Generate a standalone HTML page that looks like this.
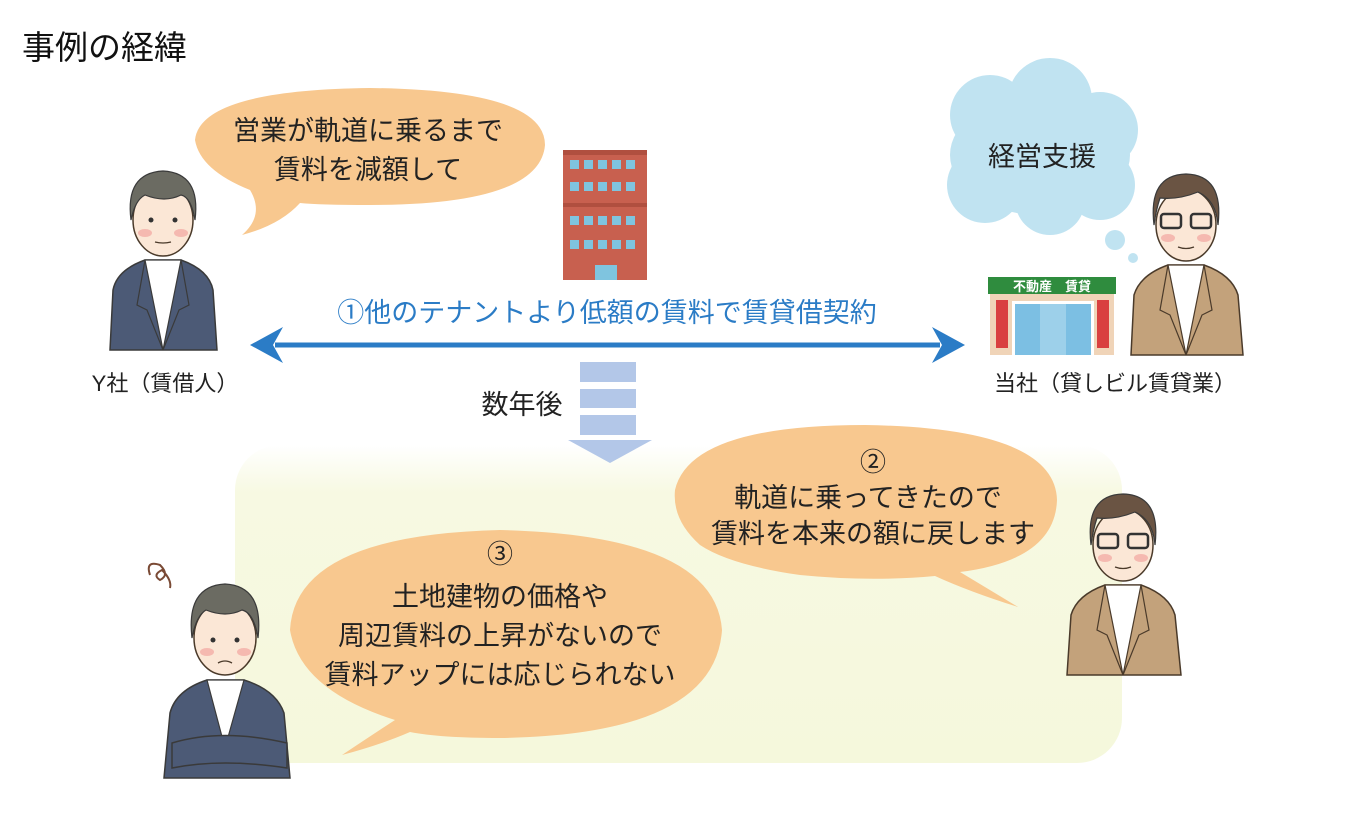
<!DOCTYPE html>
<html><head><meta charset="utf-8"><style>
html,body{margin:0;padding:0;background:#fff;}
svg{display:block;font-family:"Liberation Sans","Noto Sans CJK JP",sans-serif;}
</style></head><body>
<svg width="1345" height="823" viewBox="0 0 1345 823" xmlns="http://www.w3.org/2000/svg">
<defs>
<linearGradient id="yg" x1="0" y1="0" x2="0" y2="1">
<stop offset="0" stop-color="#fff"/><stop offset="0.15" stop-color="#f7f9e2"/><stop offset="1" stop-color="#f5f8dc"/>
</linearGradient>
</defs>

<text x="22" y="59" font-size="33" fill="#111">事例の経緯</text>

<!-- pale region -->
<rect x="235" y="445" width="887" height="318" rx="45" fill="url(#yg)"/>

<!-- bubble 1 -->
<path d="M250,190 Q200,170 195,140 Q200,90 370,88 Q545,90 545,145 Q540,205 370,205 Q320,205 300,203 Q280,225 242,235 Q265,215 250,190 Z" fill="#f8c88f"/>
<text x="368" y="140" font-size="27" text-anchor="middle" fill="#222">営業が軌道に乗るまで</text>
<text x="368" y="179" font-size="27" text-anchor="middle" fill="#222">賃料を減額して</text>

<!-- building -->
<rect x="563" y="150" width="84" height="130" fill="#c8604f"/>
<rect x="563" y="150" width="84" height="5" fill="#b04f3f"/>
<rect x="563" y="203" width="84" height="4" fill="#b04f3f"/>
<g fill="#7fc4df">
<rect x="570" y="160" width="9" height="9"/><rect x="584" y="160" width="9" height="9"/><rect x="598" y="160" width="9" height="9"/><rect x="612" y="160" width="9" height="9"/><rect x="626" y="160" width="9" height="9"/>
<rect x="570" y="182" width="9" height="9"/><rect x="584" y="182" width="9" height="9"/><rect x="598" y="182" width="9" height="9"/><rect x="612" y="182" width="9" height="9"/><rect x="626" y="182" width="9" height="9"/>
<rect x="570" y="216" width="9" height="9"/><rect x="584" y="216" width="9" height="9"/><rect x="598" y="216" width="9" height="9"/><rect x="612" y="216" width="9" height="9"/><rect x="626" y="216" width="9" height="9"/>
<rect x="570" y="240" width="9" height="9"/><rect x="584" y="240" width="9" height="9"/><rect x="598" y="240" width="9" height="9"/><rect x="612" y="240" width="9" height="9"/><rect x="626" y="240" width="9" height="9"/>
<rect x="595" y="265" width="22" height="15"/>
</g>

<!-- cloud -->
<g fill="#c0e3f1">
<ellipse cx="1040" cy="155" rx="90" ry="60"/>
<circle cx="990" cy="115" r="40"/><circle cx="1050" cy="100" r="42"/><circle cx="1100" cy="130" r="38"/>
<circle cx="985" cy="185" r="38"/><circle cx="1050" cy="200" r="35"/><circle cx="1100" cy="185" r="35"/>
<circle cx="1115" cy="240" r="10"/><circle cx="1133" cy="258" r="5"/>
</g>
<text x="1042" y="166" font-size="27" text-anchor="middle" fill="#222">経営支援</text>

<!-- person Y -->
<g transform="translate(105,165)">
<path d="M5,185 L8,125 Q12,105 40,95 L76,95 Q104,105 108,125 L112,185 Z" fill="#4c5a76" stroke="#3a3a3a" stroke-width="1.5"/>
<path d="M40,95 L58,185 L76,95 Z" fill="#fff" stroke="#3a3a3a" stroke-width="1.2"/>
<path d="M40,95 L32,140 L42,145 L58,185 M76,95 L84,140 L74,145 L58,185" fill="none" stroke="#3a3a3a" stroke-width="1.2"/>
<ellipse cx="58" cy="55" rx="30" ry="36" fill="#fbe7d6" stroke="#4a3a2a" stroke-width="1.5"/>
<path d="M26,55 Q20,8 58,6 Q96,8 90,55 Q86,32 76,30 Q60,38 40,30 Q30,35 26,55 Z" fill="#6b6b62" stroke="#3a3a3a" stroke-width="1.2"/>
<ellipse cx="40" cy="68" rx="7" ry="4" fill="#f5b9b0"/><ellipse cx="76" cy="68" rx="7" ry="4" fill="#f5b9b0"/>
<circle cx="46" cy="55" r="2.5" fill="#333"/><circle cx="70" cy="55" r="2.5" fill="#333"/>
<path d="M50,77 Q58,79 66,77" stroke="#4a3a2a" fill="none" stroke-width="1.3"/>
</g>
<text x="165" y="391" font-size="22" text-anchor="middle" fill="#222">Y社（賃借人）</text>

<!-- store -->
<rect x="990" y="293" width="124" height="62" fill="#f0d4b8"/>
<rect x="988" y="277" width="128" height="17" fill="#2f8c3e"/>
<text x="1052" y="291" font-size="13" font-weight="bold" text-anchor="middle" fill="#fff">不動産　賃貸</text>
<rect x="996" y="300" width="12" height="48" fill="#d94040"/><rect x="1097" y="300" width="12" height="48" fill="#d94040"/>
<rect x="1012" y="301" width="82" height="54" fill="#fff"/>
<rect x="1015" y="304" width="76" height="51" fill="#7cbfe3"/>
<rect x="1040" y="304" width="26" height="51" fill="#9dd0ea"/>

<!-- person 2 -->
<g transform="translate(1128,170)">
<path d="M3,185 L6,125 Q12,105 40,95 L76,95 Q104,105 110,125 L115,185 Z" fill="#c3a27b" stroke="#4a3a2a" stroke-width="1.5"/>
<path d="M40,95 L58,185 L76,95 Z" fill="#fff" stroke="#4a3a2a" stroke-width="1.2"/>
<path d="M40,95 L32,140 L42,145 L58,185 M76,95 L84,140 L74,145 L58,185" fill="none" stroke="#4a3a2a" stroke-width="1.2"/>
<ellipse cx="58" cy="55" rx="30" ry="36" fill="#fbe7d6" stroke="#4a3a2a" stroke-width="1.5"/>
<path d="M26,55 Q20,5 58,4 Q96,5 90,55 Q88,30 70,22 Q50,30 32,28 Q28,40 26,55 Z" fill="#6a5443" stroke="#3a3a3a" stroke-width="1.2"/>
<rect x="33" y="44" width="20" height="14" rx="3" fill="none" stroke="#333" stroke-width="2.5"/>
<rect x="63" y="44" width="20" height="14" rx="3" fill="none" stroke="#333" stroke-width="2.5"/>
<ellipse cx="40" cy="68" rx="7" ry="4" fill="#f5b9b0"/><ellipse cx="76" cy="68" rx="7" ry="4" fill="#f5b9b0"/>
<path d="M50,77 Q58,80 66,77" stroke="#4a3a2a" fill="none" stroke-width="1.3"/>
</g>
<text x="1115" y="391" font-size="22" text-anchor="middle" fill="#222">当社（貸しビル賃貸業）</text>

<!-- arrow -->
<line x1="275" y1="345" x2="940" y2="345" stroke="#2b7cc6" stroke-width="5"/>
<path d="M250,345 L283,327 L273,345 L283,363 Z" fill="#2b7cc6"/>
<path d="M965,345 L932,327 L942,345 L932,363 Z" fill="#2b7cc6"/>
<text x="607" y="322" font-size="27" text-anchor="middle" fill="#2b7cc6">①他のテナントより低額の賃料で賃貸借契約</text>

<!-- 数年後 -->
<text x="522" y="414" font-size="27" text-anchor="middle" fill="#222">数年後</text>
<g fill="#b3c7e8">
<rect x="580" y="362" width="56" height="20"/><rect x="580" y="389" width="56" height="19"/><rect x="580" y="415" width="56" height="20"/>
<path d="M568,440 L652,440 L610,463 Z"/>
</g>

<!-- bubble 2 -->
<path d="M700,545 Q672,520 675,490 Q690,425 865,425 Q1055,428 1057,500 Q1055,560 960,572 Q990,590 1018,607 Q970,592 935,576 Q870,582 800,575 Q730,565 700,545 Z" fill="#f8c88f"/>
<text x="873" y="471" font-size="26" text-anchor="middle" fill="#222">②</text>
<text x="868" y="507" font-size="27" text-anchor="middle" fill="#222">軌道に乗ってきたので</text>
<text x="873" y="543" font-size="27" text-anchor="middle" fill="#222">賃料を本来の額に戻します</text>

<!-- bubble 3 -->
<path d="M395,720 Q300,690 290,630 Q295,535 500,530 Q715,535 722,630 Q715,735 500,738 Q440,738 410,732 Q380,745 342,755 Q372,735 395,720 Z" fill="#f8c88f"/>
<text x="500" y="563" font-size="26" text-anchor="middle" fill="#222">③</text>
<text x="500" y="606" font-size="27" text-anchor="middle" fill="#222">土地建物の価格や</text>
<text x="500" y="645" font-size="27" text-anchor="middle" fill="#222">周辺賃料の上昇がないので</text>
<text x="500" y="684" font-size="27" text-anchor="middle" fill="#222">賃料アップには応じられない</text>

<!-- person 3 arms crossed -->
<path d="M150,575 Q145,560 160,565 Q170,575 160,580 Q152,575 162,570 Q172,580 170,588" fill="none" stroke="#7a4a35" stroke-width="2"/>
<g transform="translate(162,578)">
<path d="M2,200 L8,135 Q14,112 45,102 L82,102 Q114,112 122,135 L128,200 Z" fill="#4c5a76" stroke="#3a3a3a" stroke-width="1.5"/>
<path d="M45,102 L63,170 L82,102 Z" fill="#fff" stroke="#3a3a3a" stroke-width="1.2"/>
<path d="M10,165 Q60,150 125,165 L125,190 Q60,180 10,190 Z" fill="#4c5a76" stroke="#3a3a3a" stroke-width="1.5"/>
<ellipse cx="63" cy="60" rx="31" ry="37" fill="#fbe7d6" stroke="#4a3a2a" stroke-width="1.5"/>
<path d="M30,60 Q24,8 63,6 Q102,8 96,60 Q92,35 80,32 Q64,40 44,32 Q34,38 30,60 Z" fill="#6b6b62" stroke="#3a3a3a" stroke-width="1.2"/>
<ellipse cx="45" cy="74" rx="7" ry="4" fill="#f5b9b0"/><ellipse cx="82" cy="74" rx="7" ry="4" fill="#f5b9b0"/>
<circle cx="51" cy="62" r="2.5" fill="#333"/><circle cx="75" cy="62" r="2.5" fill="#333"/>
<path d="M56,85 Q63,81 70,85" stroke="#4a3a2a" fill="none" stroke-width="1.3"/>
</g>

<!-- person 4 -->
<g transform="translate(1065,490)">
<path d="M2,185 L6,125 Q12,105 40,95 L76,95 Q104,105 110,125 L116,185 Z" fill="#c3a27b" stroke="#4a3a2a" stroke-width="1.5"/>
<path d="M40,95 L58,185 L76,95 Z" fill="#fff" stroke="#4a3a2a" stroke-width="1.2"/>
<path d="M40,95 L32,140 L42,145 L58,185 M76,95 L84,140 L74,145 L58,185" fill="none" stroke="#4a3a2a" stroke-width="1.2"/>
<ellipse cx="58" cy="55" rx="30" ry="36" fill="#fbe7d6" stroke="#4a3a2a" stroke-width="1.5"/>
<path d="M26,55 Q20,5 58,4 Q96,5 90,55 Q88,30 70,22 Q50,30 32,28 Q28,40 26,55 Z" fill="#6a5443" stroke="#3a3a3a" stroke-width="1.2"/>
<rect x="33" y="44" width="20" height="14" rx="3" fill="none" stroke="#333" stroke-width="2.5"/>
<rect x="63" y="44" width="20" height="14" rx="3" fill="none" stroke="#333" stroke-width="2.5"/>
<ellipse cx="40" cy="68" rx="7" ry="4" fill="#f5b9b0"/><ellipse cx="76" cy="68" rx="7" ry="4" fill="#f5b9b0"/>
<path d="M50,77 Q58,80 66,77" stroke="#4a3a2a" fill="none" stroke-width="1.3"/>
</g>
</svg>
</body></html>
